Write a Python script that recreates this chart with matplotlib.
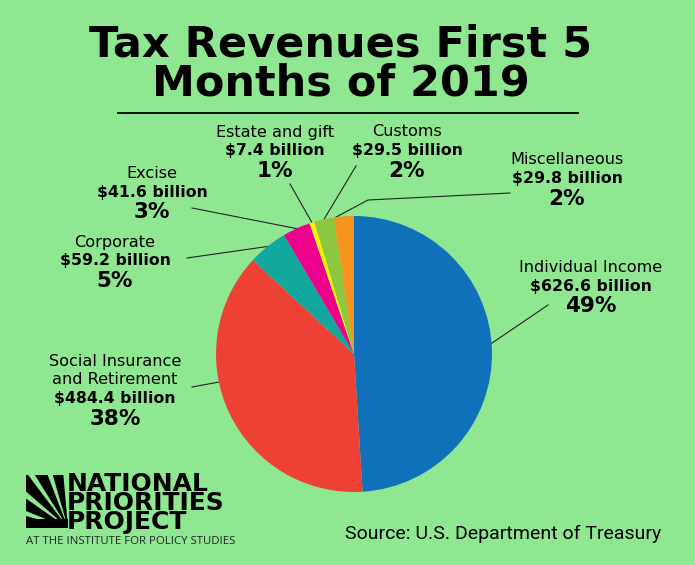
import numpy as np
import matplotlib
matplotlib.use("Agg")
import matplotlib.pyplot as plt
from matplotlib.patches import Wedge, Rectangle

# ---- data ----
categories = ["Individual Income", "Social Insurance\nand Retirement", "Corporate",
              "Excise", "Estate and gift", "Customs", "Miscellaneous"]
values = [626.6, 484.4, 59.2, 41.6, 7.4, 29.5, 29.8]
amount_labels = ["$626.6 billion", "$484.4 billion", "$59.2 billion", "$41.6 billion",
                 "$7.4 billion", "$29.5 billion", "$29.8 billion"]
pct_labels = ["49%", "38%", "5%", "3%", "1%", "2%", "2%"]
colors = ["#1070BA", "#EE4136", "#13A89E", "#EC008C", "#FFF200", "#8DC63F", "#F7941D"]

BG = "#8FE891"
W, H = 695, 565
fig = plt.figure(figsize=(W / 100, H / 100), dpi=100, facecolor=BG)

# overlay axes in pixel coordinates
ov = fig.add_axes([0, 0, 1, 1], facecolor="none")
ov.set_xlim(0, W)
ov.set_ylim(H, 0)
ov.axis("off")

# pie
cx, cy, r = 354, 354, 138
pax = fig.add_axes([(cx - r) / W, (H - cy - r) / H, 2 * r / W, 2 * r / H])
wedges, _ = pax.pie(values, colors=colors, startangle=90, counterclock=False,
                    radius=1, wedgeprops=dict(linewidth=0))
pax.set_xlim(-1, 1)
pax.set_ylim(-1, 1)
pax.set_aspect("equal")
pax.axis("off")

def edge_point(w, frac):
    t1, t2 = w.theta1, w.theta2
    a = np.deg2rad(t1 + (t2 - t1) * frac)
    return cx + r * np.cos(a), cy - r * np.sin(a)

# label layout: (text center x, first line y, line anchor fraction, text-side line end)
layout = [
    (591, 267, 0.515, [(548, 305)]),
    (115, 361, 0.40, [(192, 387)]),
    (115, 242, 0.5, [(187, 258)]),
    (152, 173, 0.5, [(192, 208)]),
    (275, 132, 0.5, [(290, 184)]),
    (407, 132, 0.5, [(356, 166)]),
    (567, 160, 0.9, [(368, 200), (510, 193)]),
]

font = "DejaVu Sans"
for i, (cat, amt, pct) in enumerate(zip(categories, amount_labels, pct_labels)):
    tx, ty, frac, pts = layout[i]
    lines = cat.split("\n")
    y = ty
    for ln in lines:
        ov.text(tx, y, ln, ha="center", va="center", fontsize=11.6, family=font, color="black")
        y += 19
    ov.text(tx, y, amt, ha="center", va="center", fontsize=11.3, family=font,
            fontweight="bold", color="black")
    y += 20
    ov.text(tx, y, pct, ha="center", va="center", fontsize=15.5, family=font,
            fontweight="bold", color="black")
    px, py = edge_point(wedges[i], frac)
    xs = [px] + [p[0] for p in pts]
    ys = [py] + [p[1] for p in pts]
    ov.plot(xs, ys, color="#222222", lw=0.8)

# title
ov.text(341, 64, "Tax Revenues First 5\nMonths of 2019", ha="center", va="center",
        fontsize=31, family="DejaVu Sans", fontweight="bold", color="black",
        linespacing=0.9)
ov.plot([118, 578], [113, 113], color="black", lw=1.3)

# source
ov.text(345, 534, "Source: U.S. Department of Treasury", ha="left", va="center",
        fontsize=14, family="Roboto", color="black")

# logo
clip = Rectangle((26, 475), 42, 53, transform=ov.transData)
ox, oy = 68, 528
angs = [(95, 106), (111, 122), (127, 139), (145, 158), (164, 178)]
for a1, a2 in angs:
    wd = Wedge((ox, oy), 80, 180 + (180 - a2), 180 + (180 - a1), color="black", lw=0)
    wd.set_transform(ov.transData)
    ov.add_patch(wd)
    wd.set_clip_path(clip)
ov.add_patch(Rectangle((26, 519), 42, 9, color="black", lw=0))
ov.text(67, 503, "NATIONAL\nPRIORITIES\nPROJECT", ha="left", va="center", fontsize=18,
        family="DejaVu Sans", fontweight="bold", color="black", linespacing=0.72)
ov.text(26, 541, "AT THE INSTITUTE FOR POLICY STUDIES", ha="left", va="center",
        fontsize=8.2, family="Open Sans", color="#222222")

fig.savefig("out.png", dpi=100, facecolor=BG)
